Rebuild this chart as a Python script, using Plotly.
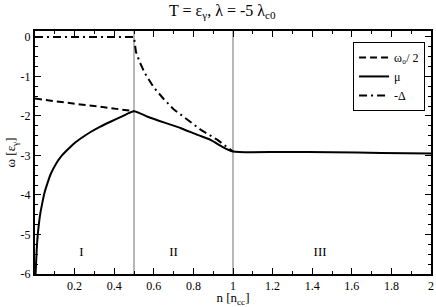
import plotly.graph_objects as go

# omega_0 / 2 (region I)
n_w0 = [0.0, 0.1, 0.23, 0.35, 0.5]
w0_half = [-1.56, -1.63, -1.71, -1.78, -1.88]

# mu
n_mu = [0.003, 0.008, 0.013, 0.02, 0.027, 0.037, 0.047, 0.063, 0.081, 0.105, 0.131, 0.165,
        0.199, 0.24, 0.283, 0.33, 0.384, 0.44, 0.5,
        0.569, 0.654, 0.737, 0.821, 0.889, 0.939, 1.0,
        1.25, 1.5, 1.75, 2.0]
mu = [-6.0, -5.45, -5.06, -4.72, -4.46, -4.2, -3.96, -3.7, -3.45, -3.22, -3.03, -2.85,
      -2.69, -2.54, -2.40, -2.27, -2.14, -2.01, -1.88,
      -2.02, -2.17, -2.31, -2.48, -2.61, -2.76, -2.90,
      -2.91, -2.92, -2.935, -2.95]

# -Delta
n_delta = [0.0, 0.5, 0.505, 0.51, 0.53, 0.555, 0.6, 0.65, 0.7, 0.77, 0.84, 0.92, 0.97, 1.0]
neg_delta = [0.0, 0.0, -0.2, -0.38, -0.65, -0.92, -1.28, -1.57, -1.83, -2.1, -2.36, -2.6, -2.8, -2.9]

region_labels = ["I", "II", "III"]
region_x = [0.235, 0.70, 1.44]
region_y = -5.45

boundaries = [0.5, 1.0]

x_ticks = [0.2, 0.4, 0.6, 0.8, 1.0, 1.2, 1.4, 1.6, 1.8, 2.0]
x_ticktext = ["0.2", "0.4", "0.6", "0.8", "1", "1.2", "1.4", "1.6", "1.8", "2"]
y_ticks = [0, -1, -2, -3, -4, -5, -6]
y_ticktext = ["0", "-1", "-2", "-3", "-4", "-5", "-6"]

FONT = "'Liberation Serif', 'DejaVu Serif', 'Times New Roman', serif"

fig = go.Figure()

for b in boundaries:
    fig.add_shape(type="line", x0=b, x1=b, y0=-6, y1=0.15, xref="x", yref="y",
                  line=dict(color="#888888", width=1.2), layer="below")

fig.add_trace(go.Scatter(x=n_w0, y=w0_half, mode="lines", name="ω₀/ 2",
                         line=dict(color="black", width=2, dash="7px,4px")))
fig.add_trace(go.Scatter(x=n_mu, y=mu, mode="lines", name="μ",
                         line=dict(color="black", width=2, shape="spline", smoothing=0.6)))
fig.add_trace(go.Scatter(x=n_delta, y=neg_delta, mode="lines", name="-Δ",
                         line=dict(color="black", width=2, dash="8px,4px,2px,4px")))

fig.add_trace(go.Scatter(x=region_x, y=[region_y] * 3, mode="text", text=region_labels,
                         textfont=dict(family=FONT, size=13, color="black"),
                         showlegend=False, hoverinfo="skip"))

fig.update_layout(
    width=436, height=307,
    margin=dict(l=35, r=5, t=31, b=33, autoexpand=False),
    paper_bgcolor="white", plot_bgcolor="white",
    font=dict(family=FONT, size=12, color="black"),
    title=dict(text="T = ε<sub>γ</sub>, λ = -5 λ<sub>c0</sub>", x=0.51, xanchor="center",
               y=0.985, yanchor="top", font=dict(family=FONT, size=16)),
    legend=dict(x=0.985, y=0.955, xanchor="right", yanchor="top",
                bordercolor="black", borderwidth=1, bgcolor="white",
                font=dict(family=FONT, size=12), tracegroupgap=0, itemwidth=30),
    showlegend=True,
)

fig.update_xaxes(range=[0, 2], tickvals=x_ticks, ticktext=x_ticktext, automargin=False,
                 ticks="inside", ticklen=6, tickwidth=1, tickcolor="black",
                 minor=dict(ticks="inside", dtick=0.1, ticklen=3, tickcolor="black"),
                 showline=True, linecolor="black", linewidth=2, mirror="allticks",
                 showgrid=False, zeroline=False,
                 title=dict(text="n [n<sub>cc</sub>]", standoff=0, font=dict(family=FONT, size=13)),
                 tickfont=dict(family=FONT, size=12))
fig.update_yaxes(range=[-6, 0.15], tickvals=y_ticks, ticktext=y_ticktext, automargin=False,
                 ticks="inside", ticklen=6, tickwidth=1, tickcolor="black",
                 minor=dict(ticks="inside", dtick=0.25, ticklen=3, tickcolor="black"),
                 showline=True, linecolor="black", linewidth=2, mirror="allticks",
                 showgrid=False, zeroline=False,
                 title=dict(text="ω [ε<sub>γ</sub>]", standoff=2, font=dict(family=FONT, size=13)),
                 tickfont=dict(family=FONT, size=12))

fig.write_html("out.html", config={"displayModeBar": False},
               post_script="document.body.style.margin='0';document.body.style.overflow='hidden';")
